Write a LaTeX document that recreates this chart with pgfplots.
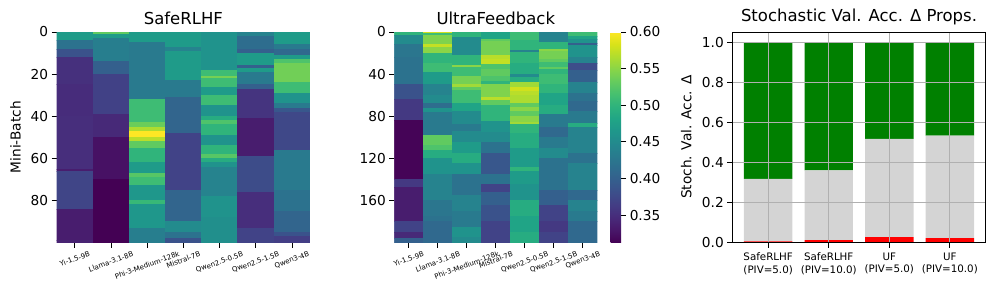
\documentclass[border=0pt]{standalone}
\usepackage{graphicx}
\usepackage{fontspec}
\setmainfont{DejaVu Sans}
\usepackage{pgfplots}
\usepackage{pgfplotstable}
\usepgfplotslibrary{patchplots}
\pgfplotsset{compat=1.18}
\newcommand\fs[1]{\fontsize{#1}{#1}\selectfont}
% bands: model column, first row, end row, value
\pgfplotstableread{
c a b v
0 0 4 .47
0 4 8 .42
0 8 12 .385
0 12 25 .352
0 25 40 .348
0 40 65 .35
0 65 66 .335
0 66 84 .372
0 84 99 .335
0 99 100 .34
1 0 1 .53
1 1 3 .47
1 3 14 .435
1 14 20 .40
1 20 39 .368
1 39 50 .345
1 50 70 .325
1 70 100 .312
2 0 5 .47
2 5 32 .43
2 32 43 .51
2 43 45 .535
2 45 47 .565
2 47 50 .60
2 50 52 .57
2 52 55 .53
2 55 62 .50
2 62 67 .47
2 67 69 .525
2 69 73 .51
2 73 80 .465
2 80 82 .505
2 82 93 .465
2 93 100 .435
3 0 7 .47
3 7 9 .44
3 9 23 .47
3 23 31 .43
3 31 48 .405
3 48 75 .37
3 75 90 .405
3 90 95 .45
3 95 98 .42
3 98 100 .385
4 0 18 .46
4 18 21 .51
4 21 22 .54
4 22 26 .51
4 26 30 .47
4 30 35 .51
4 35 40 .46
4 40 42 .49
4 42 44 .52
4 44 49 .50
4 49 54 .46
4 54 58 .50
4 58 60 .525
4 60 62 .49
4 62 64 .46
4 64 78 .44
4 78 88 .46
4 88 100 .455
5 0 2 .44
5 2 8 .415
5 8 10 .40
5 10 16 .47
5 16 17 .40
5 17 19 .47
5 19 25 .43
5 25 27 .40
5 27 41 .355
5 41 59 .335
5 59 76 .378
5 76 93 .35
5 93 100 .37
6 0 6 .47
6 6 8 .43
6 8 11 .41
6 11 13 .47
6 13 15 .52
6 15 24 .538
6 24 29 .51
6 29 34 .46
6 34 36 .43
6 36 38 .39
6 38 56 .375
6 56 75 .43
6 75 85 .42
6 85 95 .405
6 95 97 .385
6 97 100 .365
}\tabA
\pgfplotstableread{
c a b v
0 0 3 .50
0 3 12 .45
0 12 24 .425
0 24 50 .42
0 50 64 .385
0 64 84 .36
0 84 140 .315
0 140 147 .36
0 147 180 .335
0 180 190 .37
0 190 196 .345
0 196 200 .40
1 0 1 .58
1 1 3 .51
1 3 12 .545
1 12 14 .575
1 14 20 .55
1 20 30 .50
1 30 38 .51
1 38 50 .47
1 50 60 .44
1 60 68 .45
1 68 72 .415
1 72 76 .46
1 76 98 .43
1 98 108 .53
1 108 112 .52
1 112 120 .49
1 120 135 .46
1 135 160 .44
1 160 175 .425
1 175 180 .42
1 180 200 .41
2 0 5 .50
2 5 22 .45
2 22 32 .50
2 32 33 .55
2 33 42 .51
2 42 50 .54
2 50 52 .56
2 52 55 .53
2 55 68 .51
2 68 75 .48
2 75 88 .45
2 88 94 .43
2 94 105 .45
2 105 115 .47
2 115 125 .49
2 125 135 .46
2 135 155 .42
2 155 170 .44
2 170 185 .43
2 185 195 .46
2 195 200 .45
3 0 7 .48
3 7 9 .53
3 9 22 .54
3 22 26 .57
3 26 31 .575
3 31 35 .52
3 35 42 .53
3 42 47 .52
3 47 50 .50
3 50 62 .545
3 62 65 .57
3 65 70 .53
3 70 85 .50
3 85 95 .46
3 95 105 .45
3 105 115 .42
3 115 135 .39
3 135 145 .42
3 145 152 .37
3 152 165 .40
3 165 180 .385
3 180 200 .37
4 0 8 .51
4 8 17 .50
4 17 19 .44
4 19 30 .50
4 30 40 .49
4 40 43 .45
4 43 48 .49
4 48 52 .56
4 52 56 .58
4 56 60 .57
4 60 68 .565
4 68 71 .53
4 71 75 .55
4 75 80 .53
4 80 86 .55
4 86 88 .56
4 88 96 .50
4 96 110 .49
4 110 128 .47
4 128 132 .50
4 132 145 .47
4 145 160 .46
4 160 175 .49
4 175 190 .48
4 190 200 .49
5 0 10 .44
5 10 16 .50
5 16 18 .55
5 18 26 .54
5 26 29 .53
5 29 33 .51
5 33 35 .53
5 35 40 .50
5 40 50 .51
5 50 58 .50
5 58 70 .48
5 70 78 .49
5 78 90 .43
5 90 100 .41
5 100 110 .43
5 110 120 .45
5 120 150 .42
5 150 165 .40
5 165 180 .37
5 180 190 .36
5 190 200 .37
6 0 4 .51
6 4 7 .48
6 7 11 .46
6 11 13 .40
6 13 24 .46
6 24 30 .44
6 30 36 .38
6 36 48 .40
6 48 58 .44
6 58 66 .42
6 66 75 .41
6 75 87 .43
6 87 90 .49
6 90 115 .44
6 115 125 .42
6 125 150 .44
6 150 160 .41
6 160 170 .44
6 170 180 .43
6 180 200 .41
}\tabB
\newcommand\buildbands[2]{%
  \pgfplotstablegetrowsof{#1}\pgfmathtruncatemacro\nn{\pgfplotsretval-1}%
  \gdef#2{}%
  \foreach \r in {0,...,\nn}{%
    \pgfplotstablegetelem{\r}{c}\of{#1}\let\cc\pgfplotsretval
    \pgfplotstablegetelem{\r}{a}\of{#1}\let\aa\pgfplotsretval
    \pgfplotstablegetelem{\r}{b}\of{#1}\let\bb\pgfplotsretval
    \pgfplotstablegetelem{\r}{v}\of{#1}\let\vv\pgfplotsretval
    \pgfmathtruncatemacro\dd{\cc+1}%
    \xdef#2{#2 (\cc,\aa)[\vv] (\dd,\aa)[\vv] (\dd,\bb)[\vv] (\cc,\bb)[\vv]}%
  }%
}
\pgfplotsset{
  common/.style={
    scale only axis,
    /pgf/number format/assume math mode=true,
    tick label style={font=\fs{13.7}},
    label style={font=\fs{13.7}},
    title style={font=\fs{16.5},yshift=-2.5pt},
    tick align=outside, major tick length=5pt,
    tick style={black,line width=.8pt},
  },
  heat/.style={
    common,
    colormap/viridis,
    point meta min=.3126, point meta max=.60,
    y dir=reverse, xmin=0, xmax=7,
    xtick={0.5,1.5,2.5,3.5,4.5,5.5,6.5},
    xticklabels={\rotatebox{20}{Yi-1.5-9B},\rotatebox{20}{Llama-3.1-8B},\rotatebox{20}{Phi-3-Medium-128k},\rotatebox{20}{Mistral-7B},\rotatebox{20}{Qwen2.5-0.5B},\rotatebox{20}{Qwen2.5-1.5B},\rotatebox{20}{Qwen3-4B}},
    xticklabel style={font=\fs{7}},
    xtick pos=bottom, ytick pos=left,
    axis line style={draw=none},
    height=210.5pt,
  },
  band/.style={patch, patch type=rectangle, shader=flat, point meta=explicit},
}
\begin{document}
\begin{tikzpicture}[x=1pt,y=1pt]
\path[use as bounding box] (0,0) rectangle (996,292);
\buildbands{\tabA}{\coordsA}
\buildbands{\tabB}{\coordsB}
\begin{axis}[heat, at={(56.7pt,49.5pt)}, anchor=south west, width=253.3pt,
  ymin=0, ymax=100, ytick={0,20,40,60,80},
  title={SafeRLHF}, ylabel={Mini-Batch}, ylabel style={yshift=3pt}]
\edef\temp{\noexpand\addplot[band] coordinates {\coordsA};}\temp
\end{axis}
\begin{axis}[heat, at={(394.3pt,49.5pt)}, anchor=south west, width=203pt,
  ymin=0, ymax=200, ytick={0,40,80,120,160},
  title={UltraFeedback},
  colorbar,
  colorbar style={width=10.7pt, xshift=-2.2pt,
    ytick={.35,.40,.45,.50,.55,.60},
    y dir=normal,
    tick align=outside, ytick pos=right, yticklabel pos=right,
    yticklabel style={/pgf/number format/fixed,/pgf/number format/fixed zerofill,/pgf/number format/precision=2,/pgf/number format/assume math mode=true,font=\fs{13.7}},
    axis line style={draw=none},
    major tick length=5pt, tick style={black,line width=.8pt}}]
\edef\temp{\noexpand\addplot[band] coordinates {\coordsB};}\temp
\end{axis}
\begin{axis}[common, at={(732.3pt,49.5pt)}, anchor=south west, width=253.4pt, height=210.5pt,
  ybar stacked, bar width=0.8,
  xmin=-0.592, xmax=3.592, ymin=0, ymax=1.05,
  xtick={0,1,2,3},
  xticklabels={{SafeRLHF\\(PIV=5.0)},{SafeRLHF\\(PIV=10.0)},{UF\\(PIV=5.0)},{UF\\(PIV=10.0)}},
  xticklabel style={font=\fontsize{10.3}{12.8}\selectfont,align=center,yshift=-1.5pt},
  ytick={0,0.2,0.4,0.6,0.8,1.0},
  yticklabel style={/pgf/number format/fixed,/pgf/number format/fixed zerofill,/pgf/number format/precision=1},
  xtick pos=bottom, ytick pos=left,
  grid=major, grid style={color=black!31,line width=1pt},
  axis on top, axis line style={line width=.8pt},
  title={Stochastic Val. Acc. Δ Props.},
  ylabel={Stoch. Val. Acc. Δ}, ylabel style={yshift=3.5pt}]
\addplot[draw=none, fill=red] coordinates {(0,0.005) (1,0.012) (2,0.027) (3,0.022)};
\addplot[draw=none, fill=black!17] coordinates {(0,0.312) (1,0.348) (2,0.490) (3,0.511)};
\addplot[draw=none, fill={rgb,255:red,0;green,128;blue,0}] coordinates {(0,0.683) (1,0.640) (2,0.483) (3,0.467)};
\end{axis}
\end{tikzpicture}
\end{document}
